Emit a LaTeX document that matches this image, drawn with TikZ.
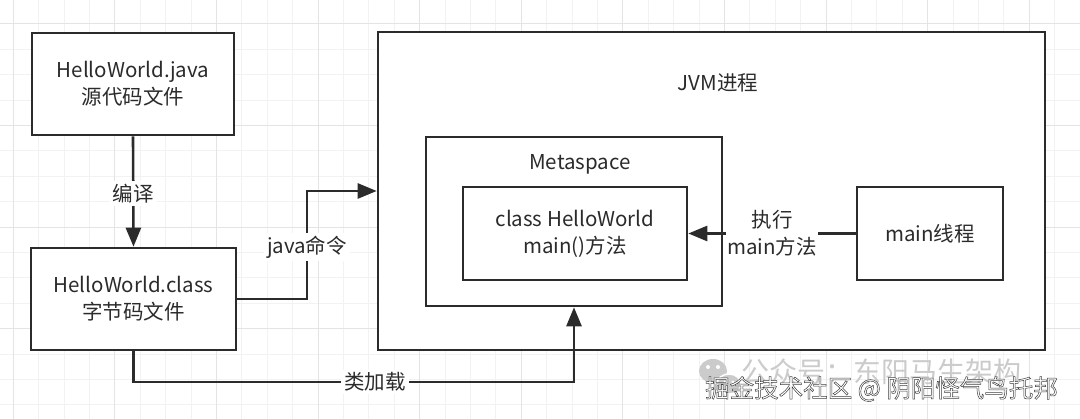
\documentclass[tikz,border=0pt]{standalone}
\usepackage{fontspec}
\setmainfont{Noto Sans CJK SC}
\usetikzlibrary{arrows.meta}
\definecolor{ink}{HTML}{2B2B2B}
\definecolor{gridminor}{HTML}{F2F2F2}
\definecolor{gridmajor}{HTML}{E4E4E4}
\definecolor{wm}{HTML}{CBCBCB}
\begin{document}
\begin{tikzpicture}[x=1pt,y=-1pt,
  box/.style={draw=ink,line width=2.6pt,fill=white,inner sep=0pt,align=center,text=ink,font=\fontsize{20.5}{27}\selectfont},
  txt/.style={inner sep=1pt,align=center,text=ink,font=\fontsize{20.5}{27}\selectfont},
  lbl/.style={txt,fill=white,inner sep=3pt},
  conn/.style={draw=ink,line width=2.6pt},
  arr/.style={conn,-{Triangle[length=19pt,width=15pt]}}]
\useasboundingbox[fill=white] (0,0) rectangle (1080,419);
% grid
\foreach \i in {0,...,42}{
  \pgfmathsetmacro{\xx}{13.3+25.4*\i}
  \draw[gridminor,line width=1pt] (\xx,0) -- (\xx,419);}
\foreach \j in {0,...,17}{
  \pgfmathsetmacro{\yy}{-1.4+25.4*\j}
  \draw[gridminor,line width=1pt] (0,\yy) -- (1080,\yy);}
\foreach \i in {0,...,10}{
  \pgfmathsetmacro{\xx}{13.3+101.6*\i}
  \draw[gridmajor,line width=1pt] (\xx,0) -- (\xx,419);}
\foreach \j in {0,...,4}{
  \pgfmathsetmacro{\yy}{24+101.6*\j}
  \draw[gridmajor,line width=1pt] (0,\yy) -- (1080,\yy);}
% boxes
\node[box,minimum width=202pt,minimum height=102pt] (b1) at (133,84) {HelloWorld.java\\源代码文件};
\node[box,minimum width=205pt,minimum height=102pt] (b2) at (133.5,299) {HelloWorld.class\\字节码文件};
\node[box,minimum width=667pt,minimum height=318pt] (jvm) at (711.5,191) {};
\node[txt] (jvmt) at (718,83) {JVM进程};
\node[box,minimum width=296pt,minimum height=169pt] (meta) at (574,221.5) {};
\node[txt] (metat) at (580,164) {Metaspace};
\node[box,minimum width=224pt,minimum height=93pt] (cls) at (575,233.5) {class HelloWorld\\main()方法};
\node[box,minimum width=146pt,minimum height=93pt] (mt) at (930,233.5) {main线程};
% connectors
\draw[arr] (b1.south) -- (b2.north) node[lbl,pos=0.52] (l1) {编译};
\coordinate (j1) at (307,191);
\draw[arr] (b2.east) -| (j1) -- (j1 -| jvm.west);
\node[lbl] (l2) at (307,247) {java命令};
\coordinate (k1) at (0,382);
\draw[arr] (b2.south) |- (meta.south |- k1) -- (meta.south);
\node[lbl] (l3) at (375,382) {类加载};
\draw[arr] (mt.west) -- (cls.east) node[lbl,midway,inner sep=1pt] (l4) {执行\\main方法};
% watermark
\node[text=wm,inner sep=0pt,anchor=west,font=\fontsize{28}{30}\selectfont] (wm1) at (741,372) {公众号：东阳马生架构};
\fill[wm] (713,371) ellipse (14pt and 12pt);
\filldraw[wm,draw=white,line width=1.5pt] (729,384) ellipse (12pt and 10pt);
\fill[white] (708,367) circle (2pt) (718,367) circle (2pt) (725,382) circle (1.6pt) (733,382) circle (1.6pt);
\node[inner sep=0pt,anchor=west,font=\fontsize{24.5}{28}\selectfont] (wm2) at (705,389)
  {\color{white}\special{pdf:literal direct 0.25 0.25 0.25 RG 0.5 w 2 Tr}掘金技术社区 @ 阴阳怪气鸟托邦\special{pdf:literal direct 0 Tr}};
\end{tikzpicture}
\end{document}
